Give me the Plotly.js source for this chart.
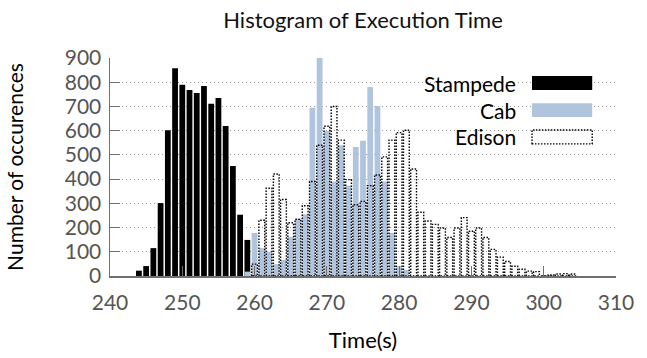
<!DOCTYPE html>
<html>
<head>
<meta charset="utf-8">
<script src="https://cdn.plot.ly/plotly-3.0.1.min.js"></script>
<style>
  html, body { margin: 0; padding: 0; background: #fff; }
  #chart { width: 647px; height: 358px; }
  .barlayer .trace:nth-child(3) path { stroke-dasharray: 1.5px 1.5px !important; }
</style>
</head>
<body>
<div id="chart"></div>
<script>
// ---- data ----
const seriesNames = ["Stampede", "Cab", "Edison"];

const stampedeX = [244, 245, 246, 247, 248, 249, 250, 251, 252, 253, 254, 255, 256, 257, 258, 259];
const stampedeY = [22, 41, 115, 301, 602, 858, 790, 768, 755, 784, 711, 735, 619, 454, 253, 149];

const cabX = [259, 260, 261, 262, 263, 264, 265, 266, 267, 268, 269, 270, 271, 272, 273, 274, 275, 276, 277, 278, 279, 280, 281];
const cabY = [18, 178, 115, 101, 49, 66, 161, 235, 255, 695, 900, 599, 390, 540, 373, 533, 558, 780, 702, 390, 178, 41, 25];

const edisonX = [260, 261, 262, 263, 264, 265, 266, 267, 268, 269, 270, 271, 272, 273, 274, 275, 276, 277, 278, 279, 280, 281, 282,
                 283, 284, 285, 286, 287, 288, 289, 290, 291, 292, 293, 294, 295, 296, 297, 298, 299, 300, 301, 302, 303, 304];
const edisonY = [49, 230, 362, 421, 316, 220, 234, 290, 390, 540, 618, 700, 561, 398, 294, 308, 373, 417, 492, 561, 592, 602, 442,
                 263, 227, 213, 198, 159, 198, 241, 185, 198, 159, 110, 78, 60, 40, 28, 20, 18, 0, 4, 8, 10, 8];

const xTicks = [240, 250, 260, 270, 280, 290, 300, 310];
const yTicks = [0, 100, 200, 300, 400, 500, 600, 700, 800, 900];

// ---- styles ----
const FONT = "Lato, 'Open Sans', sans-serif";
const colors = ["#000000", "#b0c4de", "rgba(0,0,0,0)"];

const traces = [
  { type: "bar", name: seriesNames[0], x: stampedeX, y: stampedeY, width: 0.8,
    marker: { color: colors[0], line: { width: 0 } }, showlegend: false, hoverinfo: "x+y" },
  { type: "bar", name: seriesNames[1], x: cabX, y: cabY, width: 0.8,
    marker: { color: colors[1], line: { width: 0 } }, showlegend: false, hoverinfo: "x+y" },
  { type: "bar", name: seriesNames[2], x: edisonX, y: edisonY, width: 0.8,
    marker: { color: colors[2], line: { color: "#000", width: 1.4 } }, showlegend: false, hoverinfo: "x+y" }
];

// manual legend (text + keys) so the Edison key can be dotted
const legendRows = [0.885, 0.761, 0.638];
const annotations = seriesNames.map((n, i) => ({
  xref: "paper", yref: "paper", x: 0.806, y: legendRows[i], xanchor: "right", yanchor: "middle",
  text: n, showarrow: false, font: { family: FONT, size: 21, color: "#000" }
}));
const shapes = [
  { type: "rect", xref: "paper", yref: "paper", x0: 0.619, x1: 0.968, y0: 0.587, y1: 0.968,
    fillcolor: "#fff", line: { width: 0 }, layer: "between" }
].concat(seriesNames.map((n, i) => ({
  type: "rect", xref: "paper", yref: "paper", x0: 0.834, x1: 0.953,
  y0: legendRows[i] - 0.032, y1: legendRows[i] + 0.032,
  fillcolor: i === 2 ? "rgba(0,0,0,0)" : colors[i],
  line: i === 2 ? { color: "#000", width: 1.4, dash: "1.5px,1.5px" } : { width: 0 },
  layer: "above"
})));

const layout = {
  width: 647, height: 358,
  margin: { l: 110, r: 31, t: 58, b: 82 },
  paper_bgcolor: "#fff", plot_bgcolor: "#fff",
  barmode: "overlay",
  font: { family: FONT, size: 21, color: "#555" },
  title: { text: "Histogram of Execution Time", font: { family: FONT, size: 22, color: "#111" },
           x: 0.5, xref: "paper", xanchor: "center", y: 0.944, yanchor: "middle" },
  xaxis: {
    range: [240, 310], tickvals: xTicks, ticktext: xTicks.map(String),
    ticks: "inside", ticklen: 10, tickwidth: 1.2, tickcolor: "#707070",
    showline: true, linecolor: "#707070", linewidth: 1.5,
    showgrid: false, zeroline: false, ticklabelstandoff: 7,
    tickfont: { family: FONT, size: 21, color: "#555" },
    title: { text: "Time(s)", font: { family: FONT, size: 22, color: "#000" }, standoff: 20 }
  },
  yaxis: {
    range: [0, 900], tickvals: yTicks, ticktext: yTicks.map(String),
    ticks: "inside", ticklen: 10, tickwidth: 1.2, tickcolor: "#707070",
    showline: true, linecolor: "#707070", linewidth: 1.5,
    showgrid: true, gridcolor: "#999", gridwidth: 1, griddash: "1px,3px",
    zeroline: false, ticklabelstandoff: 3,
    tickfont: { family: FONT, size: 21, color: "#555" },
    title: { text: "Number of occurences", font: { family: FONT, size: 21, color: "#000" }, standoff: 35 }
  },
  annotations: annotations,
  shapes: shapes,
  showlegend: false
};

Plotly.newPlot("chart", traces, layout, { displayModeBar: false, staticPlot: true });
</script>
</body>
</html>
